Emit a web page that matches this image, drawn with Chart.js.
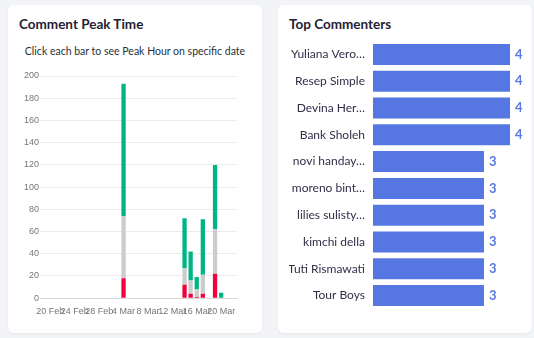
<!DOCTYPE html>
<html>
<head>
<meta charset="utf-8">
<script src="https://cdn.jsdelivr.net/npm/chart.js@4.4.1/dist/chart.umd.min.js"></script>
<style>
html,body{margin:0;padding:0;background:#f3f4f7;width:534px;height:338px;overflow:hidden;font-family:Lato,sans-serif;}
.card{position:absolute;top:5px;width:254px;height:328px;background:#fff;border-radius:6px;box-shadow:0 1px 3px rgba(40,50,80,0.07);}
#card1{left:8px;}
#card2{left:278px;}
.ttl{position:absolute;left:11px;top:11px;font-weight:bold;font-size:13.5px;line-height:16px;color:#1f2133;white-space:nowrap;}
.sub{position:absolute;left:0;width:254px;top:40.4px;text-align:center;font-size:10.5px;line-height:13px;color:#263238;white-space:nowrap;}
canvas{position:absolute;}
#peak{left:8px;top:51px;}
#top{left:11px;top:28px;}
</style>
</head>
<body>
<div class="card" id="card1">
  <div class="ttl">Comment Peak Time</div>
  <div class="sub">Click each bar to see Peak Hour on specific date</div>
  <canvas id="peak" width="238" height="269"></canvas>
</div>
<div class="card" id="card2">
  <div class="ttl">Top Commenters</div>
  <canvas id="top" width="241" height="284"></canvas>
</div>
<script>
// ---- Comment Peak Time data ----
const BASE_DATE = '2023-02-20';
const commentDates = ['2023-03-04','2023-03-14','2023-03-15','2023-03-16','2023-03-17','2023-03-19','2023-03-20'];
const negativeCounts = [18, 12, 4, 1, 4, 22, 0];
const neutralCounts  = [56, 15, 12, 7, 17, 40, 0];
const positiveCounts = [119, 45, 26, 11, 50, 58, 5];
const xTickDates  = ['2023-02-20','2023-02-24','2023-02-28','2023-03-04','2023-03-08','2023-03-12','2023-03-16','2023-03-20'];
const xTickLabels = ['20 Feb','24 Feb','28 Feb','4 Mar','8 Mar','12 Mar','16 Mar','20 Mar'];
const xRangeDays = [-1.7, 30.6];
const yRange = [0, 200];
const yStep = 20;

// ---- Top Commenters data ----
const commenters = ['Yuliana Vero\u2026','Resep Simple','Devina Her\u2026','Bank Sholeh','novi handay\u2026','moreno bint\u2026','lilies sulisty\u2026','kimchi della','Tuti Rismawati','Tour Boys'];
const commentCounts = [4, 4, 4, 4, 3, 3, 3, 3, 3, 3];
const countRange = [-1.27, 4];

function dayIndex(s){ return Math.round((Date.parse(s) - Date.parse(BASE_DATE)) / 86400000); }
function series(vals){ return commentDates.map((d,i)=>({x: dayIndex(d), y: vals[i]})); }

const tickFont = {family:'"Liberation Sans", Arial, sans-serif', size:9};

new Chart(document.getElementById('peak'), {
  type: 'bar',
  data: {
    datasets: [
      {label:'Negative', data: series(negativeCounts), backgroundColor:'#f0033d'},
      {label:'Neutral',  data: series(neutralCounts),  backgroundColor:'#cccccc'},
      {label:'Positive', data: series(positiveCounts), backgroundColor:'#00b585'}
    ]
  },
  options: {
    responsive:false, animation:false, devicePixelRatio:1,
    datasets:{bar:{categoryPercentage:0.8, barPercentage:0.88, borderWidth:0}},
    layout:{padding:{left:8, right:17, top:20, bottom:0}},
    plugins:{legend:{display:false}, tooltip:{enabled:false}},
    scales:{
      x:{type:'linear', stacked:true, offset:false, min:xRangeDays[0], max:xRangeDays[1],
        grid:{display:false, drawTicks:false, offset:false},
        border:{display:true, color:'#d8d8d8'},
        afterBuildTicks: s => { s.ticks = xTickDates.map(d => ({value: dayIndex(d)})); },
        afterFit: s => { s.paddingLeft = 0; s.paddingRight = 0; },
        ticks:{autoSkip:false, maxRotation:0, minRotation:0, padding:8, color:'#777', font:tickFont,
          callback:(v,i)=>xTickLabels[i]}},
      y:{stacked:true, min:yRange[0], max:yRange[1],
        ticks:{stepSize:yStep, padding:1, color:'#777', font:tickFont},
        grid:{color:'#ebebeb', drawTicks:false},
        border:{display:false},
        afterFit: s => { s.width = 16; s.paddingTop = 0; }}
    }
  }
});

const valueLabels = {
  id:'valueLabels',
  afterDatasetsDraw(chart){
    const ctx = chart.ctx;
    const meta = chart.getDatasetMeta(0);
    ctx.save();
    ctx.font = 'bold 13px Lato';
    ctx.fillStyle = '#5a78e2';
    ctx.textAlign = 'left';
    ctx.textBaseline = 'middle';
    meta.data.forEach((bar,i)=>{ ctx.fillText(String(chart.data.datasets[0].data[i]), bar.x + 5, bar.y); });
    ctx.restore();
  }
};

new Chart(document.getElementById('top'), {
  type:'bar',
  data:{labels: commenters, datasets:[{data: commentCounts, backgroundColor:'#5677e1', base: countRange[0],
    categoryPercentage:0.9, barPercentage:0.87, borderWidth:0}]},
  options:{
    indexAxis:'y', responsive:false, animation:false, devicePixelRatio:1,
    layout:{padding:{top:8, bottom:8, left:0, right:20}},
    plugins:{legend:{display:false}, tooltip:{enabled:false}},
    scales:{
      x:{display:false, min:countRange[0], max:countRange[1]},
      y:{grid:{display:false, drawTicks:false}, border:{display:false},
        ticks:{padding:8, color:'#2f2f4a', font:{family:'Lato', size:12}},
        afterFit: s => { s.width = 84; s.paddingTop = 0; s.paddingBottom = 0; }}
    }
  },
  plugins:[valueLabels]
});
</script>
</body>
</html>
